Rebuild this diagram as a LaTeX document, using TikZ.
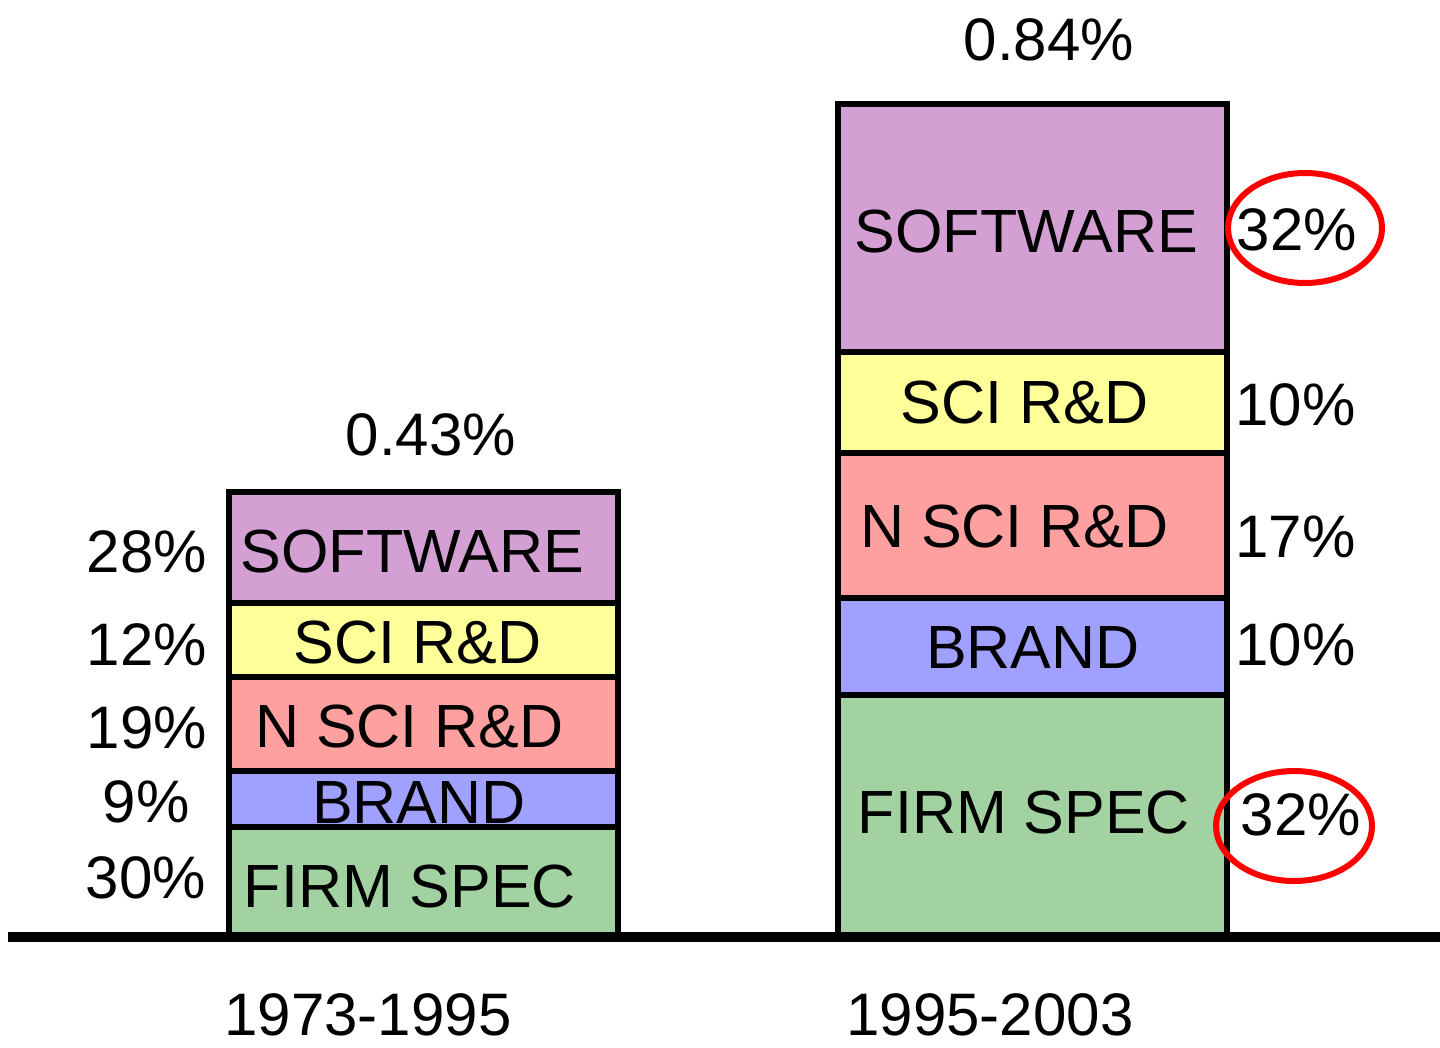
\documentclass[tikz,border=0pt]{standalone}
\usepackage{fontspec}
\setmainfont{Liberation Sans}
\usetikzlibrary{shapes.geometric}
\definecolor{swpurple}{RGB}{212,160,212}
\definecolor{sciyellow}{RGB}{255,255,153}
\definecolor{nscipink}{RGB}{255,160,160}
\definecolor{brandblue}{RGB}{160,160,255}
\definecolor{firmgreen}{RGB}{162,210,162}
\begin{document}
\begin{tikzpicture}[x=1pt,y=-1pt,
  seg/.style={draw=black, line width=6pt},
  lab/.style={anchor=base, inner sep=0pt, font=\fontsize{61}{70}\selectfont},
  pct/.style={anchor=base, inner sep=0pt, font=\fontsize{60}{70}\selectfont},
  circ/.style={draw=red, line width=6pt, ellipse, inner sep=0pt}]
\useasboundingbox (0,0) rectangle (1440,1047);
\fill[white] (0,0) rectangle (1440,1047);

% left bar 1973-1995
\draw[seg, fill=swpurple]   (229,492) rectangle (618,603);
\draw[seg, fill=sciyellow]  (229,603) rectangle (618,677);
\draw[seg, fill=nscipink]   (229,677) rectangle (618,771);
\draw[seg, fill=brandblue]  (229,771) rectangle (618,827);
\draw[seg, fill=firmgreen]  (229,827) rectangle (618,937);

% right bar 1995-2003
\draw[seg, fill=swpurple]   (838,104) rectangle (1227,352);
\draw[seg, fill=sciyellow]  (838,352) rectangle (1227,453);
\draw[seg, fill=nscipink]   (838,453) rectangle (1227,598);
\draw[seg, fill=brandblue]  (838,598) rectangle (1227,695);
\draw[seg, fill=firmgreen]  (838,695) rectangle (1227,937);

% axis
\draw[line width=10pt] (8,937) -- (1440,937);

% left labels
\node[lab] (lsw)  at (412.5,572) {SOFTWARE};
\node[lab] (lsci) at (417.5,663) {SCI R\&D};
\node[lab] (lnsci) at (409.5,747) {N SCI R\&D};
\node[lab] (lbr)  at (419,823) {BRAND};
\node[lab] (lfs)  at (410,907) {FIRM SPEC};

% right labels
\node[lab] (rsw)  at (1026.5,252) {SOFTWARE};
\node[lab] (rsci) at (1024.5,423) {SCI R\&D};
\node[lab] (rnsci) at (1014.5,547) {N SCI R\&D};
\node[lab] (rbr)  at (1033,668) {BRAND};
\node[lab] (rfs)  at (1024,833) {FIRM SPEC};

% left percentages
\node[pct] (p28) at (147,572) {28\%};
\node[pct] (p12) at (147,665) {12\%};
\node[pct] (p19) at (147,748) {19\%};
\node[pct] (p9)  at (146,822) {9\%};
\node[pct] (p30) at (146,898) {30\%};

% right percentages
\node[pct] (q32a) at (1297,250) {32\%};
\node[pct] (q10a) at (1295.5,425) {10\%};
\node[pct] (q17)  at (1295.5,557) {17\%};
\node[pct] (q10b) at (1295.5,665) {10\%};
\node[pct] (q32b) at (1301,835) {32\%};

% circles
\node[circ, minimum width=154pt, minimum height=110pt] (c1) at (1305,228) {};
\node[circ, minimum width=156pt, minimum height=110pt] (c2) at (1294,826) {};

% totals
\node[pct] (t1) at (431,455) {0.43\%};
\node[pct] (t2) at (1049,60) {0.84\%};

% periods
\node[pct] (y1) at (368,1035) {1973-1995};
\node[pct] (y2) at (990,1035) {1995-2003};
\end{tikzpicture}
\end{document}
